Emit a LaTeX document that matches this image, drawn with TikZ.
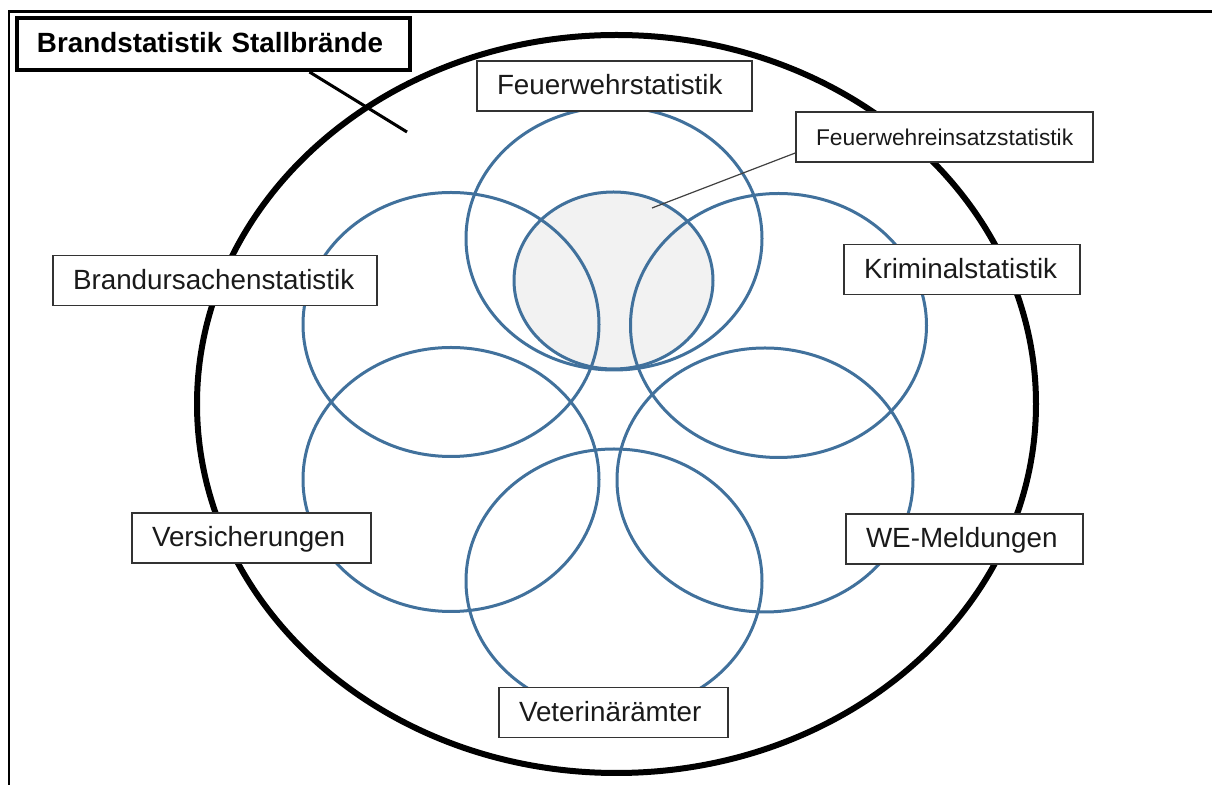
\documentclass[tikz,border=0pt]{standalone}
\usepackage{fontspec}
\setmainfont{Liberation Sans}
\usetikzlibrary{calc}
\definecolor{ringblue}{HTML}{41719C}
\definecolor{boxline}{HTML}{333333}
\definecolor{txt}{HTML}{1A1A1A}
\definecolor{shade}{HTML}{F2F2F2}
\tikzset{
  lbl/.style={draw=boxline, line width=0.75pt, fill=white, text=txt,
    font=\fontsize{13.9}{16}\selectfont, inner xsep=10pt, inner ysep=0pt,
    text height=0.716em+1.6pt, text depth=0pt, minimum height=25pt, align=left},
  ring/.style={draw=ringblue, line width=1.5pt},
}
\begin{document}
\begin{tikzpicture}[x=0.5pt,y=-0.5pt]
\useasboundingbox (0,0) rectangle (1212,785);
% frame (clipped)
\draw[line width=1.3pt] (9,785) -- (9,11.5) -- (1212,11.5);
% outer ellipse
\draw[line width=3pt] (616.5,404) ellipse [x radius=209.75pt, y radius=184.5pt];
% shaded inner ellipse
\draw[ring, fill=shade] (613.5,280.5) ellipse [x radius=49.75pt, y radius=44.25pt];
% six rings
\draw[ring] (614,238.5) ellipse [x radius=74pt, y radius=65.75pt];
\draw[ring] (451,324.5) ellipse [x radius=74pt, y radius=66pt];
\draw[ring] (778.5,325.5) ellipse [x radius=74pt, y radius=66pt];
\draw[ring] (451,479.5) ellipse [x radius=74pt, y radius=66pt];
\draw[ring] (765,480) ellipse [x radius=74pt, y radius=66pt];
\draw[ring] (614,581) ellipse [x radius=74pt, y radius=66pt];
% labels
\node[draw=black, line width=2pt, fill=white, text=black,
  font=\bfseries\fontsize{13.9}{16}\selectfont, inner xsep=10pt, inner ysep=0pt,
  text height=0.716em+1.6pt, text depth=0pt, minimum height=26pt,
  text width=176.5pt, align=left] (title) at (213.5,44) {Brandstatistik Stallbrände};
\coordinate (titleend) at (407,132);
\draw[line width=1.5pt] ([xshift=48pt]title.south) -- (titleend);

\coordinate (fwepoint) at (652,208);
\node[lbl, text width=128.5pt, font=\fontsize{11.4}{14}\selectfont, text height=0.716em+1.4pt] (fwe) at (944.5,137) {Feuerwehreinsatzstatistik};
\draw[line width=0.6pt, draw=black!75] (fwepoint) -- ([yshift=-8pt]fwe.west);

\node[lbl, text width=117.5pt] (fws) at (614.5,86) {Feuerwehrstatistik};
\node[lbl, text width=142pt] (bus) at (215,280.5) {Brandursachenstatistik};
\node[lbl, text width=98pt] (krim) at (962,269.5) {Kriminalstatistik};
\node[lbl, text width=99.5pt] (vers) at (251.5,538) {Versicherungen};
\node[lbl, text width=98.5pt] (we) at (964.5,539) {WE-Meldungen};
\node[lbl, text width=94.5pt] (vet) at (613.5,712.5) {Veterinärämter};
\end{tikzpicture}
\end{document}
